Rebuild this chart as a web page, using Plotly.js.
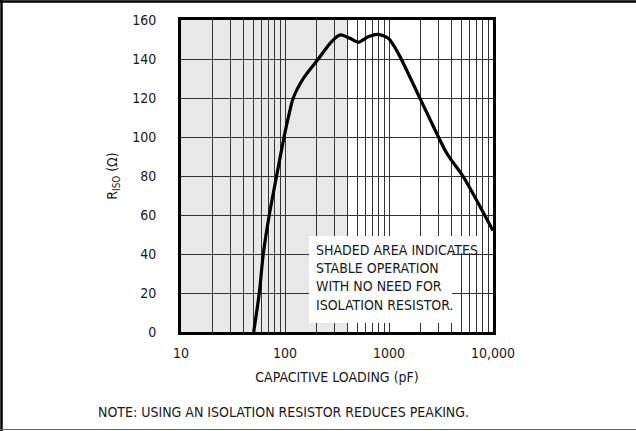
<!DOCTYPE html>
<html>
<head>
<meta charset="utf-8">
<script src="https://cdn.plot.ly/plotly-3.0.1.min.js"></script>
<style>
  html, body { margin: 0; padding: 0; background: #fff; overflow: hidden; }
  #chart { width: 636px; height: 431px; }
</style>
</head>
<body>
<div id="chart"></div>
<script>
// Data
const capacitance_pF = [50, 56.6, 61.8, 70.6, 83, 98, 108, 120, 150, 209, 271, 326, 351, 422, 507, 632, 789, 985, 1228, 1986, 3450, 3870, 5190, 10000];
const riso_ohm      = [0, 20, 40, 60, 80, 100, 110.4, 120, 130, 140, 148, 152, 152.3, 150.6, 148.6, 151.4, 152.6, 150.6, 142.9, 119.8, 93.3, 89, 79.6, 52];

const stableLimit_pF = [10, 400];

const xTickVals = [10, 100, 1000, 10000];
const xTickText = ['10', '100', '1000', '10,000'];
const xMinorVals = [20,30,40,50,60,70,80,90,200,300,400,500,600,700,800,900,2000,3000,4000,5000,6000,7000,8000,9000];
const yTickVals = [0, 20, 40, 60, 80, 100, 120, 140, 160];

const FONT = '"DejaVu Sans Condensed", "Liberation Sans Narrow", sans-serif';

// plot area geometry helpers (pixel -> paper)
const L = 181, T = 20, W = 312, H = 312;
const px = p => (p - L) / W;
const py = p => (T + H - p) / H;

const trace = {
  x: capacitance_pF, y: riso_ohm, type: 'scatter', mode: 'lines',
  line: { color: '#000', width: 3.2, shape: 'spline', smoothing: 0.7 },
  hoverinfo: 'skip', showlegend: false
};

const layout = {
  width: 636, height: 431,
  margin: { l: L, r: 636 - L - W, t: T, b: 431 - T - H },
  paper_bgcolor: '#fff', plot_bgcolor: '#fff',
  font: { family: FONT, size: 14, color: '#1a1a1a' },
  xaxis: {
    type: 'log', range: [1, 4],
    tickmode: 'array', tickvals: xTickVals, ticktext: xTickText,
    ticks: '', ticklabelstandoff: 6,
    showgrid: true, gridcolor: '#333', gridwidth: 1,
    minor: { tickmode: 'array', tickvals: xMinorVals, showgrid: true, gridcolor: '#333', gridwidth: 1, ticks: '' },
    showline: true, linecolor: '#000', linewidth: 3, mirror: true,
    zeroline: false,
    title: { text: 'CAPACITIVE LOADING (pF)', font: { family: FONT, size: 14 }, standoff: 13 }
  },
  yaxis: {
    range: [0, 160], tickmode: 'array', tickvals: yTickVals,
    ticks: '', ticklabelstandoff: 19,
    showgrid: true, gridcolor: '#333', gridwidth: 1,
    showline: true, linecolor: '#000', linewidth: 3, mirror: true,
    zeroline: false,
    title: { text: 'R<sub>ISO</sub> (Ω)', font: { family: FONT, size: 14 }, standoff: 12 }
  },
  shapes: [
    { type: 'rect', layer: 'below', xref: 'x', yref: 'paper',
      x0: stableLimit_pF[0], x1: stableLimit_pF[1], y0: 0, y1: 1,
      fillcolor: '#e8e8e8', line: { width: 0 } },
    { type: 'rect', layer: 'above', xref: 'paper', yref: 'paper',
      x0: px(309), x1: px(452), y0: py(323), y1: py(236),
      fillcolor: '#fff', line: { width: 0 } },
    { type: 'rect', layer: 'above', xref: 'paper', yref: 'paper',
      x0: px(309), x1: px(482), y0: py(253), y1: py(236),
      fillcolor: '#fff', line: { width: 0 } },
    // page frame
    { type: 'rect', layer: 'above', xref: 'paper', yref: 'paper',
      x0: px(630), x1: px(640), y0: py(4), y1: py(428), fillcolor: '#fff', line: { width: 0 } },
    { type: 'line', layer: 'above', xref: 'paper', yref: 'paper',
      x0: px(0), x1: px(636), y0: py(1.5), y1: py(1.5), line: { color: '#000', width: 2.5 } },
    { type: 'line', layer: 'above', xref: 'paper', yref: 'paper',
      x0: px(1.5), x1: px(1.5), y0: py(0), y1: py(431), line: { color: '#000', width: 2.5 } },
    { type: 'line', layer: 'above', xref: 'paper', yref: 'paper',
      x0: px(0), x1: px(636), y0: py(429.5), y1: py(429.5), line: { color: '#666', width: 1.2 } }
  ],
  annotations: [
    { xref: 'paper', yref: 'paper', x: px(314), y: py(277), xanchor: 'left', yanchor: 'middle',
      align: 'left', showarrow: false, font: { family: FONT, size: 14, color: '#1a1a1a' },
      text: 'SHADED AREA INDICATES<br>STABLE OPERATION<br>WITH NO NEED FOR<br>ISOLATION RESISTOR.' },
    { xref: 'paper', yref: 'paper', x: px(96), y: py(411.7),
      xanchor: 'left', yanchor: 'middle', showarrow: false,
      font: { family: FONT, size: 14, color: '#1a1a1a' },
      text: 'NOTE: USING AN ISOLATION RESISTOR REDUCES PEAKING.' }
  ]
};

Plotly.newPlot('chart', [trace], layout, { displayModeBar: false, staticPlot: true });
</script>
</body>
</html>
